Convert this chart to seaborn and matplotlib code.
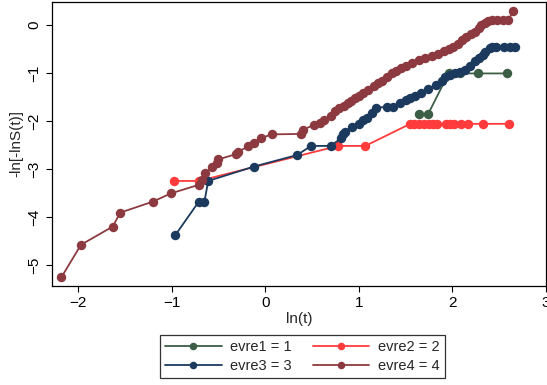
import pandas as pd
import seaborn as sns
import matplotlib.pyplot as plt

# ------------ DATA ------------
evre1_x = [1.64, 1.74, 1.96, 2.08, 2.27, 2.58]
evre1_y = [-1.86, -1.86, -1.01, -1.01, -1.01, -1.01]

evre2_x = [-0.98, -0.71, 0.78, 1.07, 1.55, 1.59, 1.64, 1.70, 1.75, 1.79, 1.84,
           1.93, 1.98, 2.02, 2.09, 2.17, 2.33, 2.61]
evre2_y = [-3.25, -3.25, -2.52, -2.52, -2.06, -2.06, -2.06, -2.06, -2.06, -2.06,
           -2.06, -2.06, -2.06, -2.06, -2.06, -2.06, -2.06, -2.06]

evre3_x = [-0.96, -0.71, -0.65, -0.61, -0.12, 0.34, 0.49, 0.70, 0.81, 0.83, 0.85,
           0.93, 1.00, 1.05, 1.09, 1.14, 1.18, 1.30, 1.37, 1.44, 1.50, 1.55, 1.60,
           1.67, 1.74, 1.82, 1.89, 1.92, 1.98, 2.03, 2.08, 2.14, 2.19, 2.24, 2.28,
           2.33, 2.35, 2.40, 2.42, 2.47, 2.55, 2.62, 2.67]
evre3_y = [-4.375, -3.68, -3.68, -3.25, -2.95, -2.71, -2.52, -2.52, -2.36, -2.28,
           -2.22, -2.12, -2.06, -1.98, -1.93, -1.83, -1.72, -1.71, -1.70, -1.62,
           -1.56, -1.52, -1.48, -1.42, -1.33, -1.25, -1.16, -1.08, -1.04, -1.01,
           -0.98, -0.93, -0.85, -0.76, -0.69, -0.62, -0.56, -0.47, -0.45, -0.45,
           -0.45, -0.45, -0.45]

evre4_x = [-2.18, -1.97, -1.63, -1.55, -1.20, -1.01, -0.71, -0.68, -0.64, -0.57,
           -0.52, -0.50, -0.31, -0.29, -0.18, -0.12, -0.05, 0.07, 0.38, 0.40,
           0.52, 0.59, 0.63, 0.70, 0.75, 0.79, 0.84, 0.88, 0.92, 0.96, 1.00, 1.05,
           1.10, 1.16, 1.21, 1.25, 1.30, 1.35, 1.40, 1.45, 1.50, 1.57, 1.64, 1.71,
           1.78, 1.85, 1.91, 1.96, 2.01, 2.06, 2.10, 2.15, 2.20, 2.24, 2.28, 2.31,
           2.35, 2.38, 2.42, 2.48, 2.54, 2.60, 2.65]
evre4_y = [-5.26, -4.58, -4.20, -3.91, -3.68, -3.51, -3.33, -3.23, -3.09, -2.96,
           -2.87, -2.80, -2.69, -2.64, -2.53, -2.45, -2.36, -2.28, -2.27, -2.18,
           -2.09, -2.04, -1.97, -1.90, -1.80, -1.74, -1.68, -1.63, -1.58, -1.53,
           -1.47, -1.42, -1.35, -1.28, -1.20, -1.16, -1.08, -1.00, -0.95, -0.90,
           -0.85, -0.80, -0.74, -0.69, -0.64, -0.60, -0.55, -0.50, -0.45, -0.40,
           -0.32, -0.25, -0.19, -0.14, -0.07, -0.01, 0.04, 0.09, 0.11, 0.11,
           0.11, 0.11, 0.29]

labels = ["evre1 = 1", "evre2 = 2", "evre3 = 3", "evre4 = 4"]
colors = ["#3c5e47", "#ff3b3b", "#1b3a5e", "#8c3a40"]
# --------------------------------------------------------

series = [(evre1_x, evre1_y), (evre2_x, evre2_y), (evre3_x, evre3_y), (evre4_x, evre4_y)]

sns.set_style("white")
plt.rcParams["font.family"] = ["Liberation Sans", "DejaVu Sans"]

fig = plt.figure(figsize=(5.47, 3.85), dpi=100)
ax = fig.add_axes([0.095, 0.257, 0.903, 0.738])

for (xs, ys), lab, col in zip(series, labels, colors):
    d = pd.DataFrame({"x": xs, "y": ys})
    sns.lineplot(data=d, x="x", y="y", sort=False, estimator=None, ax=ax,
                 color=col, marker="o", markersize=6.8, markeredgewidth=0,
                 linewidth=1.3, label=lab)

ax.set_xlim(-2.28, 3.0)
ax.set_ylim(-5.44, 0.48)
ax.set_xticks([-2, -1, 0, 1, 2, 3])
ax.set_yticks([-5, -4, -3, -2, -1, 0])
ax.tick_params(direction="out", length=4, width=0.8, colors="black",
               labelsize=11, bottom=True, left=True)
for t in ax.get_yticklabels():
    t.set_rotation(90)
    t.set_va("center")
for s in ax.spines.values():
    s.set_color("black")
    s.set_linewidth(0.9)

ax.set_xlabel("ln(t)", fontsize=11, labelpad=1)
ax.set_ylabel("-ln[-lnS(t)]", fontsize=11, labelpad=3)

# row-wise legend order: evre1, evre2 / evre3, evre4
handles, labs = ax.get_legend_handles_labels()
order = [0, 2, 1, 3]
ax.legend([handles[i] for i in order], [labs[i] for i in order],
          loc="center", bbox_to_anchor=(0.553, 0.074), bbox_transform=fig.transFigure,
          ncol=2, frameon=True, fancybox=False, edgecolor="black", fontsize=10.5,
          handlelength=3.85, numpoints=1, columnspacing=1.45, borderpad=0.35,
          labelspacing=0.3, handletextpad=0.6, markerscale=0.8)
ax.get_legend().get_frame().set_linewidth(0.9)

plt.savefig("out.png", dpi=100)
